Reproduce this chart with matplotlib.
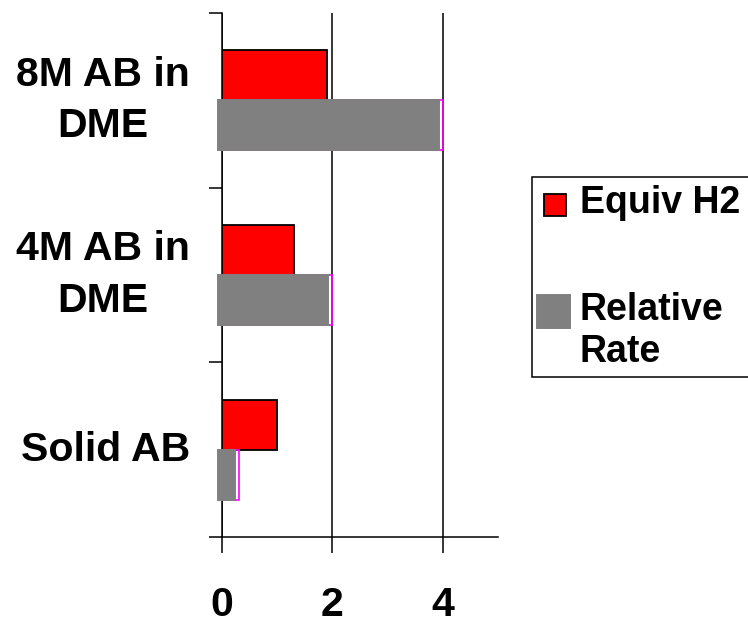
import matplotlib
matplotlib.use('Agg')
import matplotlib.pyplot as plt
import matplotlib.transforms as mtransforms
from matplotlib.patches import Rectangle
from matplotlib.legend_handler import HandlerPatch
import numpy as np

categories = ['8M AB in\nDME', '4M AB in\nDME', 'Solid AB']
equiv_h2 = [1.9, 1.3, 1.0]
relative_rate = [4.0, 2.0, 0.3]
x_ticks = [0, 2, 4]

plt.rcParams['font.family'] = ['Liberation Sans', 'DejaVu Sans']
plt.rcParams['font.weight'] = 'bold'


def square_patch(side, dx=0.0, dy=0.0):
    """Legend handle: a square of `side` fontsizes, nudged by dx/dy fontsizes."""
    def make(legend, orig_handle, xdescent, ydescent, width, height, fontsize):
        s = side * fontsize
        cx = -xdescent + width / 2 + dx * fontsize
        cy = -ydescent + height / 2 + dy * fontsize
        return Rectangle((cx - s / 2, cy - s / 2), s, s)
    return make


fig = plt.figure(figsize=(7.48, 6.27), dpi=100)
ax = fig.add_axes([222 / 748, 90 / 627, 276 / 748, 524 / 627])

y = np.arange(len(categories))
h = 0.286

red_bars = ax.barh(y - h / 2, equiv_h2, height=h, color='#ff0000',
                   edgecolor='black', linewidth=1.3, zorder=3, label='Equiv H2')
# magenta outline at the real extent, gray fill drawn a few pixels to the left
ax.barh(y + h / 2, relative_rate, height=h, color='none',
        edgecolor='#ff00ff', linewidth=1.2, zorder=3)
rate_bars = ax.barh(y + h / 2, relative_rate, height=h, color='#808080',
                    edgecolor='#808080', linewidth=1.4, zorder=4,
                    label='Relative\nRate')
shift = mtransforms.offset_copy(ax.transData, fig=fig, x=-4, y=0, units='dots')
for p in rate_bars.patches:
    p.set_transform(shift)
    p.set_clip_on(False)

ax.set_xlim(0, 5)
ax.set_ylim(2.5, -0.5)
ax.set_xticks(x_ticks)
ax.set_xticklabels([str(t) for t in x_ticks])
ax.set_yticks(y)
ax.set_yticklabels(categories)
ax.set_yticks([-0.5, 0.5, 1.5, 2.5], minor=True)
for lbl in ax.get_yticklabels():
    lbl.set_multialignment('center')
    lbl.set_linespacing(1.45)
    lbl.set_va('center')

ax.tick_params(axis='y', which='major', length=0, pad=23, labelsize=29.5)
ax.tick_params(axis='y', which='minor', length=9.4, width=1.1, direction='out')
ax.tick_params(axis='x', length=11.5, width=1.1, direction='out', pad=24,
               labelsize=29.5)
for side in ['top', 'right']:
    ax.spines[side].set_visible(False)
for side in ['left', 'bottom']:
    ax.spines[side].set_linewidth(1.1)
ax.set_axisbelow(True)
ax.grid(axis='x', color='black', linewidth=1.1)

# legend box runs off the right edge of the figure
leg_top = 1 - 177 / 627
leg = ax.legend(
    handles=[red_bars.patches[0], rate_bars.patches[0]],
    labels=['Equiv H2', 'Relative\nRate'],
    handler_map={
        red_bars.patches[0]: HandlerPatch(patch_func=square_patch(0.587, -0.027, -0.135)),
        rate_bars.patches[0]: HandlerPatch(patch_func=square_patch(0.88, -0.067, 0.54)),
    },
    loc='upper left', mode='expand',
    bbox_to_anchor=(532 / 748, leg_top - 0.4, 0.32, 0.4),
    bbox_transform=fig.transFigure, borderaxespad=0,
    prop={'weight': 'bold', 'size': 27},
    frameon=True, fancybox=False, edgecolor='black', framealpha=1,
    borderpad=0.2, labelspacing=1.9, handletextpad=0.2,
    handlelength=0.88, handleheight=0.88,
)
leg.get_frame().set_linewidth(1.1)
for t in leg.get_texts():
    t.set_linespacing(1.2)

fig.savefig('out.png', dpi=100)
